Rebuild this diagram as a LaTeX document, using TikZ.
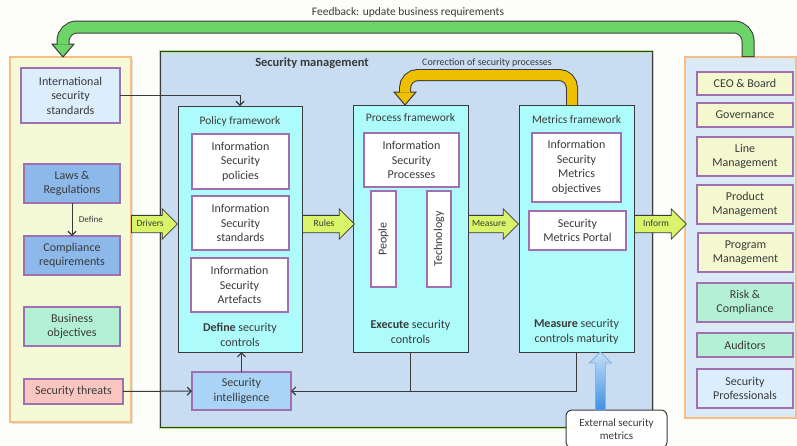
\documentclass[tikz,border=0pt]{standalone}
\usepackage{fontspec}
\usepackage{graphicx}
\setmainfont{Carlito}
\usetikzlibrary{shapes.arrows,calc,arrows.meta}
\definecolor{bgc}{HTML}{FDFDF9}
\definecolor{txt}{HTML}{3A3A3A}
\definecolor{dark}{HTML}{3A3A3A}
\definecolor{orangeB}{HTML}{F7BE86}
\definecolor{lpfill}{HTML}{F5FAD6}
\definecolor{rpfill}{HTML}{DCEAF8}
\definecolor{smfill}{HTML}{C8DCF2}
\definecolor{smglow}{HTML}{B4E68C}
\definecolor{cyanF}{HTML}{ADFBFB}
\definecolor{purpleB}{HTML}{A070B0}
\definecolor{intlF}{HTML}{DCEDFB}
\definecolor{lawsF}{HTML}{8DB8EA}
\definecolor{mintF}{HTML}{B4F1D4}
\definecolor{pinkF}{HTML}{F8C6BF}
\definecolor{intelF}{HTML}{A9D4F5}
\definecolor{ylwF}{HTML}{F4F8CF}
\definecolor{arrF}{HTML}{DAF46A}
\definecolor{greenA}{HTML}{6CD468}
\definecolor{orangeA}{HTML}{EEC000}
\definecolor{blueL}{HTML}{C4DEF8}
\definecolor{blueD}{HTML}{3F90E2}
\definecolor{blueE}{HTML}{7AAEE0}
\tikzset{
  panel/.style={draw=orangeB, line width=1.5pt, outer sep=0pt, anchor=north west},
  fwbox/.style={draw=dark, line width=1pt, fill=cyanF, outer sep=0pt, anchor=north west},
  pbox/.style={draw=purpleB, line width=1.8pt, fill=white, outer sep=0pt, anchor=north west,
    align=center, inner sep=1pt},
  conn/.style={draw=dark, line width=1pt, -{Straight Barb[length=4pt,width=8pt,line width=1.2pt]}},
  plainline/.style={draw=dark, line width=1pt},
  barrow/.style={single arrow, draw=dark, fill=arrF, line width=0.8pt, minimum width=30pt,
    single arrow head extend=6.5pt, text height=6pt, text depth=1.5pt, inner ysep=4.5pt,
    inner xsep=2pt, anchor=tail, font=\fontsize{9.5}{10}\selectfont},
  fwtitle/.style={font=\fontsize{11.5}{13}\selectfont},
  fwfoot/.style={align=center, font=\fontsize{12}{14.5}\selectfont},
  smalllab/.style={font=\fontsize{9}{10}\selectfont}
}
\begin{document}
\begin{tikzpicture}[x=1pt,y=-1pt, font=\fontsize{12}{14.5}\selectfont, text=txt]
\fill[bgc] (0,0) rectangle (797,445);
\useasboundingbox (0,0) rectangle (797,445);

% panels
\fill[black!12] (12,59) rectangle (133,424);
\node[panel, fill=lpfill, minimum width=121pt, minimum height=365pt] (lp) at (10,57) {};
\node[panel, fill=rpfill, minimum width=111pt, minimum height=361pt] (rp) at (685,57) {};
\node[draw=smglow, line width=3pt, fill=smfill, minimum width=492pt, minimum height=376pt,
  anchor=north west, outer sep=0pt] (sm) at (160,51) {};
\draw[dark, line width=0.8pt] (sm.north west) rectangle (sm.south east);
\node[font=\bfseries\fontsize{12.5}{14}\selectfont] (smt) at (312,63) {Security management};

% feedback arrow (green)
\coordinate (fbA) at ($(rp.north west)+(63,0)$);
\coordinate (fbT) at ($(lp.north west)+(53,0)$);
\draw[dark, line width=13pt, rounded corners=14pt] (fbA) -- ++(0,-30) -| ($(fbT)+(0,-13)$);
\filldraw[fill=greenA, draw=dark, line width=1pt] ($(fbT)+(-11,-13)$) -- ($(fbT)+(11,-13)$) -- (fbT) -- cycle;
\draw[greenA, line width=11pt, rounded corners=14pt] ($(fbA)+(0,-1)$) -- ($(fbA)+(0,-30)$) -| ($(fbT)+(0,-12.4)$);
\node[font=\fontsize{11.5}{13}\selectfont] (fbl) at (408,12) {Feedback: update business requirements};

% correction arrow (orange)
\coordinate (ocA) at (572,106);
\coordinate (ocT) at (405,105);
\draw[dark, line width=12pt, rounded corners=13pt] (ocA) -- (572,75) -| ($(ocT)+(0,-13)$);
\filldraw[fill=orangeA, draw=dark, line width=1pt] ($(ocT)+(-11,-13)$) -- ($(ocT)+(11,-13)$) -- (ocT) -- cycle;
\draw[orangeA, line width=10pt, rounded corners=13pt] (ocA) -- (572,75) -| ($(ocT)+(0,-12.4)$);
\node[font=\fontsize{10}{12}\selectfont] (ocl) at (487,63) {Correction of security processes};

% frameworks
\node[fwbox, minimum width=124pt, minimum height=246pt] (pf) at (178,106) {};
\node[fwbox, minimum width=115pt, minimum height=247pt] (proc) at (353,105) {};
\node[fwbox, minimum width=115pt, minimum height=247pt] (met) at (519,105) {};
\node[fwtitle] (pft) at (240,121) {Policy framework};
\node[fwtitle] (prt) at (410.5,118) {Process framework};
\node[fwtitle] (mtt) at (576.5,120) {Metrics framework};
\node[fwfoot] (pff) at (240,335) {\textbf{Define} security\\controls};
\node[fwfoot] (prf) at (410.5,332) {\textbf{Execute} security\\controls};
\node[fwfoot] (mtf) at (576.5,332) {\textbf{Measure} security\\controls maturity};

% policy boxes
\node[pbox, minimum width=97pt, minimum height=55pt] (pol) at (192,134) {Information\\Security\\policies};
\node[pbox, minimum width=97pt, minimum height=54pt] (std) at (192,196) {Information\\Security\\standards};
\node[pbox, minimum width=97pt, minimum height=54pt] (art) at (191,258) {Information\\Security\\Artefacts};
% process boxes
\node[pbox, minimum width=95pt, minimum height=54pt] (isp) at (364,133) {Information\\Security\\Processes};
\node[pbox, minimum width=25pt, minimum height=96pt] (ppl) at (371,191) {\rotatebox{90}{People}};
\node[pbox, minimum width=24pt, minimum height=96pt] (tec) at (427,191) {\rotatebox{90}{Technology}};
% metrics boxes
\node[pbox, minimum width=89pt, minimum height=69pt] (ismo) at (532,133) {Information\\Security\\Metrics\\objectives};
\node[pbox, minimum width=97pt, minimum height=39pt] (smp) at (529,211) {Security\\Metrics Portal};

% left boxes
\node[pbox, fill=intlF, minimum width=99pt, minimum height=55pt] (intl) at (21,68) {International\\security\\standards};
\node[pbox, fill=lawsF, minimum width=96pt, minimum height=39pt] (laws) at (24,164) {Laws \&\\Regulations};
\node[pbox, fill=lawsF, minimum width=96pt, minimum height=39pt] (comp) at (24,236) {Compliance\\requirements};
\node[pbox, fill=mintF, minimum width=96pt, minimum height=39pt] (bus) at (24,307) {Business\\objectives};
\node[pbox, fill=pinkF, minimum width=99pt, minimum height=25pt] (thr) at (24,379) {Security threats};
\node[pbox, fill=intelF, minimum width=99pt, minimum height=38pt] (intel) at (192,372) {Security\\intelligence};

% right boxes
\node[pbox, fill=ylwF, minimum width=96pt, minimum height=23pt] (ceo) at (697,72) {CEO \& Board};
\node[pbox, fill=ylwF, minimum width=96pt, minimum height=24pt] (gov) at (697,103) {Governance};
\node[pbox, fill=ylwF, minimum width=96pt, minimum height=39pt] (line) at (697,137) {Line\\Management};
\node[pbox, fill=ylwF, minimum width=96pt, minimum height=39pt] (prod) at (697,185) {Product\\Management};
\node[pbox, fill=ylwF, minimum width=95pt, minimum height=39pt] (prog) at (698,233) {Program\\Management};
\node[pbox, fill=mintF, minimum width=96pt, minimum height=39pt] (risk) at (697,283) {Risk \&\\Compliance};
\node[pbox, fill=mintF, minimum width=96pt, minimum height=24pt] (aud) at (697,333) {Auditors};
\node[pbox, fill=intlF, minimum width=96pt, minimum height=39pt] (spro) at (697,369) {Security\\Professionals};

% block arrows
\node[barrow, minimum height=46pt] (drv) at (131,224) {Drivers};
\node[barrow, minimum height=52pt] (rul) at (302,224) {Rules};
\node[barrow, minimum height=50pt] (mea) at (468,224) {Measure};
\node[barrow, minimum height=52pt] (inf) at (634,224) {Inform};

% connectors
\draw[conn] (intl.east) -| (pf.north);
\draw[conn] (laws) -- node[right, smalllab, xshift=3pt] (deflab) {Define} (comp);
\draw[conn] (thr) -- (intel);
\draw[conn] (intel.north) -- (intel.north |- pf.south);
\draw[conn] (proc.south) |- (intel.east);
\draw[plainline] (met.south) |- (proc.south |- intel.east);

% external metrics
\node[draw=dark, rounded corners=6pt, fill=white, line width=1pt, minimum width=101pt,
  minimum height=38pt, anchor=north west, align=center, outer sep=0pt, inner sep=1pt,
  font=\fontsize{11}{12.5}\selectfont] (ext) at (566,410) {External security\\metrics};
\coordinate (bA) at ($(ext.north west)!0.34!(ext.north east)$);
\coordinate (btip) at (bA |- met.south);
\shade[top color=blueL, bottom color=blueD, draw=blueE, line width=0.6pt]
  ($(bA)+(-5,0)$) -- ($(btip)+(-5,11)$) -- ($(btip)+(-11,11)$) -- (btip) --
  ($(btip)+(11,11)$) -- ($(btip)+(5,11)$) -- ($(bA)+(5,0)$) -- cycle;
\end{tikzpicture}
\end{document}
